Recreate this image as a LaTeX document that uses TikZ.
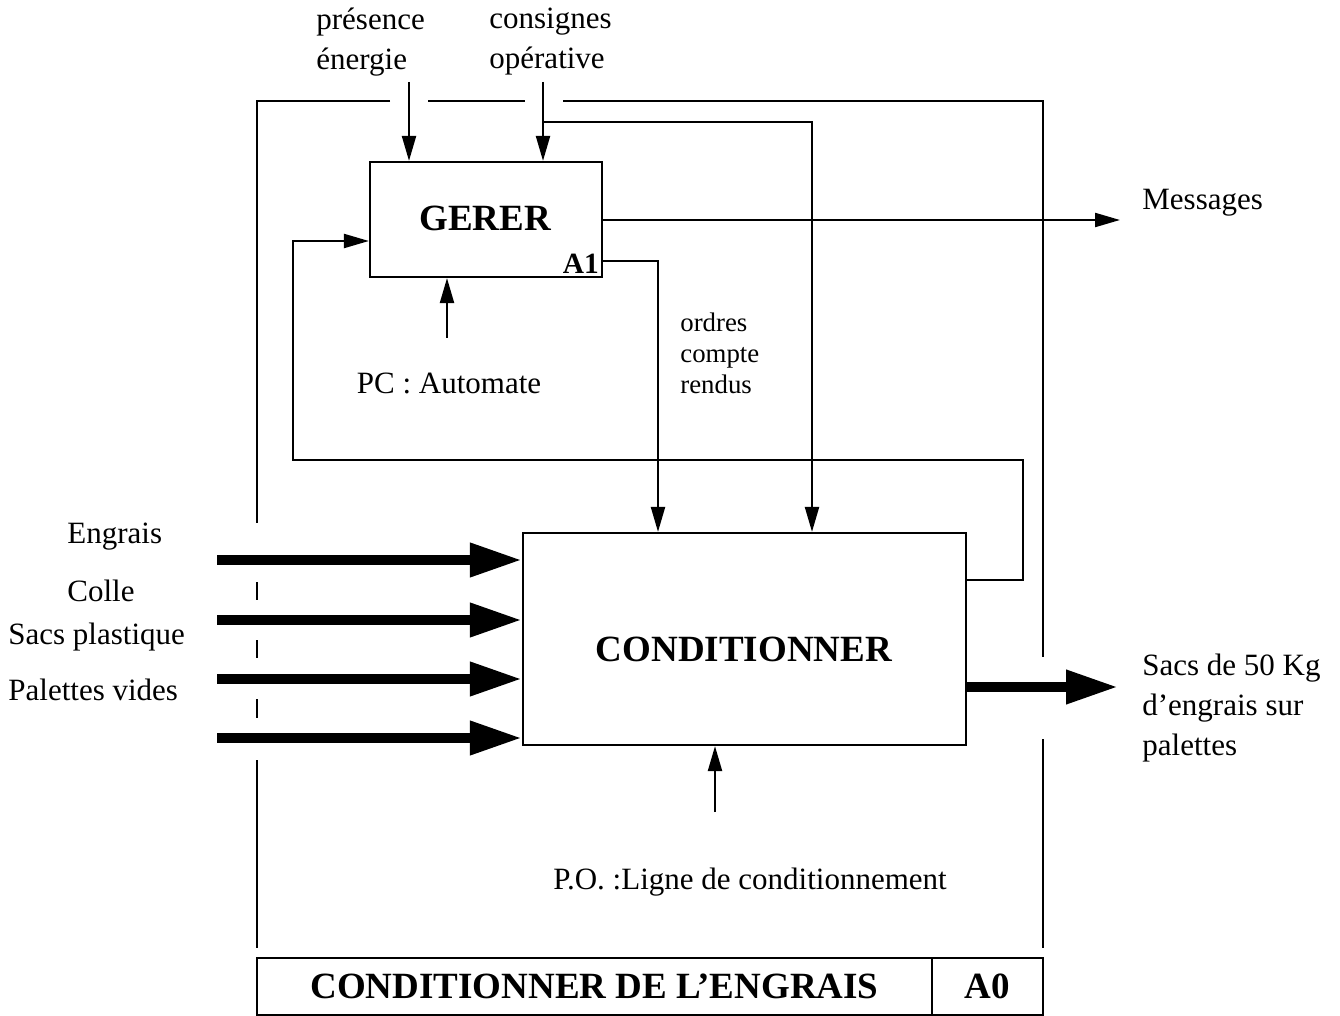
\documentclass[tikz,border=0pt]{standalone}
\usepackage{fontspec}
\setmainfont{Liberation Serif}
\usetikzlibrary{arrows.meta,calc}
\begin{document}
\begin{tikzpicture}[x=0.5pt,y=-0.5pt,
  frame/.style={line width=0.8pt},
  box/.style={draw,line width=1.1pt,inner sep=0pt},
  conn/.style={line width=1.1pt},
  arr/.style={conn,-{Triangle[length=12.5pt,width=7pt]}},
  thick arr/.style={line width=5pt,-{Triangle[length=26pt,width=16pt]}},
  lbl/.style={font=\fontsize{15.5}{20}\selectfont,inner sep=0pt},
  small/.style={font=\fontsize{13.4}{15.5}\selectfont,inner sep=0pt},
  ttl/.style={font=\fontsize{18.5}{22}\selectfont\bfseries,inner sep=0pt},
  cell/.style={draw,line width=1.1pt,inner sep=0pt,font=\fontsize{18.5}{22}\selectfont\bfseries}]
\useasboundingbox (0,0) rectangle (1340,1016);

% outer frame (with gaps where flows cross)
\draw[frame] (390,101) -- (257,101) -- (257,523);
\draw[frame] (428,101) -- (525,101);
\draw[frame] (563,101) -- (1043,101) -- (1043,657);
\draw[frame] (1043,739) -- (1043,948);
\draw[frame] (257,582) -- (257,600);
\draw[frame] (257,640) -- (257,658);
\draw[frame] (257,699) -- (257,718);
\draw[frame] (257,760) -- (257,948);

% activity boxes
\node[box,minimum width=116pt,minimum height=57.5pt] (gerer) at (486,219.5) {};
\node[ttl] (gerert) at (485,218) {GERER};
\node[font=\fontsize{14.7}{17}\selectfont\bfseries,inner sep=2pt,anchor=south east] (a1) at (gerer.south east) {A1};
\node[box,minimum width=221.5pt,minimum height=106pt] (cond) at (744.5,639) {};
\node[ttl] (condt) at (744,649) {CONDITIONNER};

% controls on GERER
\node[lbl,align=left,anchor=west] (pres) at (316,42) {présence\\énergie};
\node[lbl,align=left,anchor=west] (cons) at (489,42) {consignes\\opérative};
\coordinate (pe) at (409,82);
\coordinate (ce) at (543,82);
\coordinate (cb) at (543,122);
\coordinate (cb2) at (812,122);
\draw[arr] (pe) -- (pe |- gerer.north);
\draw[arr] (ce) -- (ce |- gerer.north);
\draw[arr] (cb) -- (cb2) -- (cb2 |- cond.north);

% GERER outputs
\coordinate (msg) at (1120,220);
\draw[arr] (gerer.east |- msg) -- (msg);
\node[lbl,anchor=west] (msgt) at (1142,203) {Messages};
\coordinate (o1) at (658,261);
\draw[arr] (gerer.east |- o1) -- (o1) -- (o1 |- cond.north);
\node[small,align=left,anchor=west] (ordt) at (680,353) {ordres\\compte\\rendus};

% mechanism of GERER
\coordinate (pc) at (447,338);
\draw[arr] (pc) -- (pc |- gerer.south);
\node[lbl] (pct) at (449,383) {PC : Automate};

% feedback from CONDITIONNER to GERER
\coordinate (f0) at (966,580);
\coordinate (f1) at (1023,580);
\coordinate (f2) at (1023,460);
\coordinate (f3) at (293,460);
\coordinate (f4) at (293,241);
\draw[arr] (cond.east |- f0) -- (f1) -- (f2) -- (f3) -- (f4) -- (gerer.west |- f4);

% inputs
\coordinate (i1) at (217,560);
\coordinate (i2) at (217,620);
\coordinate (i3) at (217,679);
\coordinate (i4) at (217,738);
\draw[thick arr] (i1) -- (cond.west |- i1);
\draw[thick arr] (i2) -- (cond.west |- i2);
\draw[thick arr] (i3) -- (cond.west |- i3);
\draw[thick arr] (i4) -- (cond.west |- i4);
\node[lbl,anchor=west] (in1) at (67,537) {Engrais};
\node[lbl,anchor=west] (in2) at (67,591) {Colle};
\node[lbl,anchor=west] (in3) at (8,637) {Sacs plastique};
\node[lbl,anchor=west] (in4) at (8,690) {Palettes vides};

% output
\coordinate (out) at (1118,687);
\draw[thick arr] (cond.east |- out) -- (out);
\node[lbl,align=left,anchor=west] (outt) at (1142,708) {Sacs de 50 Kg\\d’engrais sur\\palettes};

% mechanism of CONDITIONNER
\coordinate (po) at (715,812);
\draw[arr] (po) -- (po |- cond.south);
\node[lbl] (pot) at (750,882) {P.O. :Ligne de conditionnement};

% title block
\node[cell,minimum width=337.5pt,minimum height=28.5pt] (title) at (594.5,986.5) {CONDITIONNER DE L’ENGRAIS};
\node[cell,minimum width=55.5pt,minimum height=28.5pt] (num) at (987.5,986.5) {A0};
\end{tikzpicture}
\end{document}
